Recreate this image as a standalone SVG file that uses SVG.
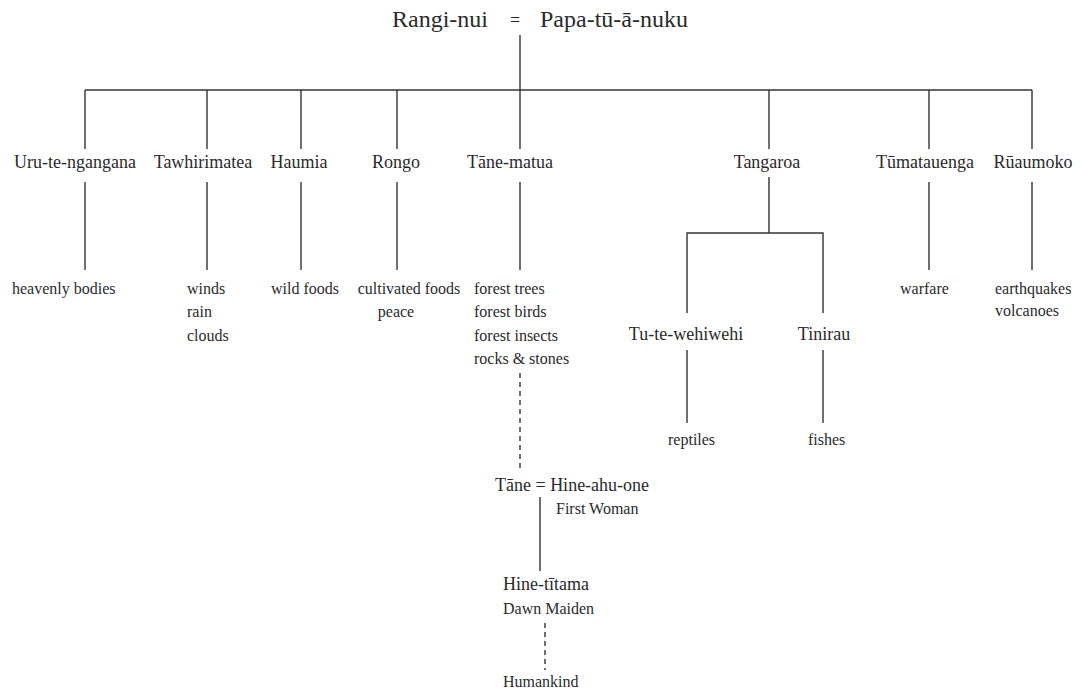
<svg xmlns="http://www.w3.org/2000/svg" width="1082" height="694" viewBox="0 0 1082 694">
<style>
text { font-family: "Liberation Serif", "DejaVu Serif", serif; fill: #2a2a2a; }
.title { font-size: 24px; }
.name { font-size: 18px; text-anchor: middle; }
.nameL { font-size: 18px; }
.leaf { font-size: 16px; }
.leafM { font-size: 16px; text-anchor: middle; }
.ln { stroke: #333; stroke-width: 1.4; fill: none; }
.dash { stroke: #333; stroke-width: 1.4; fill: none; stroke-dasharray: 5 4; }
</style>
<rect width="1082" height="694" fill="#ffffff"/>
<g id="connectors">
  <line class="ln" x1="520" y1="35" x2="520" y2="90"/>
  <line class="ln" x1="85" y1="90" x2="1032" y2="90"/>
  <line class="ln" x1="85" y1="90" x2="85" y2="149"/>
  <line class="ln" x1="207" y1="90" x2="207" y2="149"/>
  <line class="ln" x1="301" y1="90" x2="301" y2="149"/>
  <line class="ln" x1="397" y1="90" x2="397" y2="149"/>
  <line class="ln" x1="520" y1="90" x2="520" y2="149"/>
  <line class="ln" x1="769" y1="90" x2="769" y2="149"/>
  <line class="ln" x1="929" y1="90" x2="929" y2="149"/>
  <line class="ln" x1="1032" y1="90" x2="1032" y2="149"/>
  <line class="ln" x1="85" y1="182" x2="85" y2="270"/>
  <line class="ln" x1="207" y1="182" x2="207" y2="270"/>
  <line class="ln" x1="301" y1="182" x2="301" y2="270"/>
  <line class="ln" x1="397" y1="182" x2="397" y2="270"/>
  <line class="ln" x1="520" y1="182" x2="520" y2="270"/>
  <line class="ln" x1="929" y1="182" x2="929" y2="270"/>
  <line class="ln" x1="1032" y1="182" x2="1032" y2="270"/>
  <path class="ln" d="M769 177 V233 M687 313 V233 H823 V313"/>
  <line class="ln" x1="687" y1="350" x2="687" y2="423"/>
  <line class="ln" x1="823" y1="350" x2="823" y2="423"/>
  <line class="dash" x1="520" y1="373" x2="520" y2="472"/>
  <line class="ln" x1="540" y1="497" x2="540" y2="571"/>
  <line class="dash" x1="545" y1="623" x2="545" y2="670"/>
</g>
<g id="parents">
  <text class="title" x="392" y="27">Rangi-nui</text>
  <text x="515" y="26" font-size="18" text-anchor="middle">=</text>
  <text class="title" x="540" y="27">Papa-tū-ā-nuku</text>
</g>
<g id="uru"><text class="name" x="75" y="168">Uru-te-ngangana</text><text class="leaf" x="12" y="294">heavenly bodies</text></g>
<g id="tawhirimatea"><text class="name" x="203" y="168">Tawhirimatea</text>
  <text class="leaf" x="187" y="294">winds</text><text class="leaf" x="187" y="317">rain</text><text class="leaf" x="187" y="341">clouds</text></g>
<g id="haumia"><text class="name" x="299" y="168">Haumia</text><text class="leaf" x="271" y="294">wild foods</text></g>
<g id="rongo"><text class="name" x="396" y="168">Rongo</text><text class="leafM" x="409" y="294">cultivated foods</text><text class="leafM" x="396" y="317">peace</text></g>
<g id="tane-matua"><text class="name" x="510" y="168">Tāne-matua</text>
  <text class="leaf" x="474" y="294">forest trees</text><text class="leaf" x="474" y="317">forest birds</text>
  <text class="leaf" x="474" y="341">forest insects</text><text class="leaf" x="474" y="364">rocks &amp; stones</text></g>
<g id="tangaroa"><text class="name" x="767" y="168">Tangaroa</text></g>
<g id="tu-te-wehiwehi"><text class="name" x="686" y="340">Tu-te-wehiwehi</text><text class="leaf" x="668" y="445">reptiles</text></g>
<g id="tinirau"><text class="name" x="824" y="340">Tinirau</text><text class="leaf" x="808" y="445">fishes</text></g>
<g id="tumatauenga"><text class="name" x="925" y="168">Tūmatauenga</text><text class="leaf" x="900" y="294">warfare</text></g>
<g id="ruaumoko"><text class="name" x="1033" y="168">Rūaumoko</text><text class="leaf" x="995" y="294">earthquakes</text><text class="leaf" x="995" y="316">volcanoes</text></g>
<g id="tane-hine"><text class="nameL" x="495" y="491">Tāne = Hine-ahu-one</text><text class="leaf" x="556" y="514">First Woman</text></g>
<g id="hine-titama"><text class="nameL" x="503" y="590">Hine-tītama</text><text class="leaf" x="503" y="614">Dawn Maiden</text></g>
<g id="humankind"><text class="leaf" x="503" y="687">Humankind</text></g>
</svg>
